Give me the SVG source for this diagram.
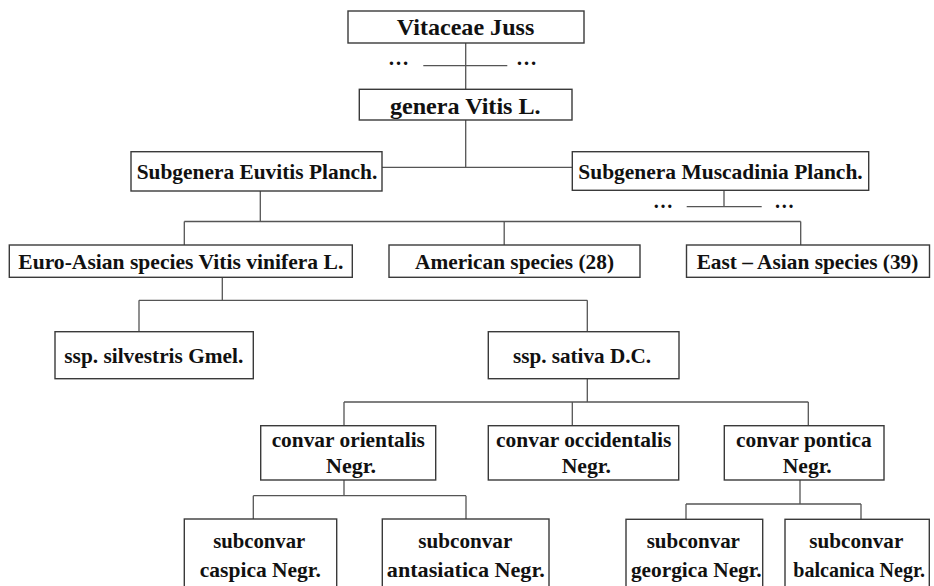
<svg xmlns="http://www.w3.org/2000/svg" width="934" height="586" viewBox="0 0 934 586">
<style>
.box{fill:#fff;stroke:#3a3a3a;stroke-width:1.4}
.t{font-family:"Liberation Serif","Times New Roman",serif;font-weight:bold;font-size:21.5px;fill:#111;text-anchor:middle}
.c{fill:none;stroke:#555;stroke-width:1.3}
</style>
<rect width="934" height="586" fill="#fff"/>
<g id="connectors" class="c">
<path d="M465.7 43V89.3M423.3 65.7H507.3"/>
<path d="M465.7 120V167.3M382 167.3H572.3"/>
<path d="M260.3 191V221.5M184.3 221.5H800.7M184.3 221.5V245M504.2 221.5V245M800.7 221.5V245"/>
<path d="M724 190.3V206.7M686.7 206.7H761.7"/>
<path d="M222.3 277.3V300.3M139 300.3H587.3M139 300.3V331.7M587.3 300.3V331.7"/>
<path d="M587.3 378.7V402M344 402H808.3M344 402V425.7M572.3 402V425.7M808.3 402V425.7"/>
<path d="M344 480V495.7M253.3 495.7H466M253.3 495.7V519M466 495.7V519"/>
<path d="M800 480V504M686 504H861M686 504V519.3M861 504V519.3"/>
<text class="t" stroke="none" x="398.5" y="64.5" textLength="21" lengthAdjust="spacingAndGlyphs">…</text>
<text class="t" stroke="none" x="526.5" y="64.5" textLength="21" lengthAdjust="spacingAndGlyphs">…</text>
<text class="t" stroke="none" x="663" y="208" textLength="20" lengthAdjust="spacingAndGlyphs">…</text>
<text class="t" stroke="none" x="784.3" y="208" textLength="20" lengthAdjust="spacingAndGlyphs">…</text>
</g>
<g id="vitaceae"><rect class="box" x="348" y="11" width="236" height="32"/><text class="t" x="465.5" y="35" font-size="24" style="font-size:24px" textLength="137.6" lengthAdjust="spacingAndGlyphs">Vitaceae Juss</text></g>
<g id="genera"><rect class="box" x="359.3" y="89.3" width="212.7" height="30.7"/><text class="t" x="465.3" y="113.5" style="font-size:23px" textLength="150.7" lengthAdjust="spacingAndGlyphs">genera Vitis L.</text></g>
<g id="euvitis"><rect class="box" x="131" y="151.7" width="251" height="39.3"/><text class="t" x="257" y="179.3" textLength="240.6" lengthAdjust="spacingAndGlyphs">Subgenera Euvitis Planch.</text></g>
<g id="muscadinia"><rect class="box" x="572.3" y="151.7" width="296.4" height="38.6"/><text class="t" x="720.5" y="179.3" textLength="284.4" lengthAdjust="spacingAndGlyphs">Subgenera Muscadinia Planch.</text></g>
<g id="euroasian"><rect class="box" x="9.3" y="245" width="343" height="32.3"/><text class="t" x="180.8" y="269.3" textLength="325" lengthAdjust="spacingAndGlyphs">Euro-Asian species Vitis vinifera L.</text></g>
<g id="american"><rect class="box" x="389" y="245" width="251" height="32.3"/><text class="t" x="514.5" y="269.3" textLength="199" lengthAdjust="spacingAndGlyphs">American species (28)</text></g>
<g id="eastasian"><rect class="box" x="686.5" y="245" width="243" height="32.3"/><text class="t" x="807.5" y="269.3" textLength="221.7" lengthAdjust="spacingAndGlyphs">East – Asian species (39)</text></g>
<g id="silvestris"><rect class="box" x="55" y="331.7" width="198.3" height="47"/><text class="t" x="153.8" y="363.3" textLength="179" lengthAdjust="spacingAndGlyphs">ssp. silvestris Gmel.</text></g>
<g id="sativa"><rect class="box" x="488.3" y="331.7" width="190.7" height="47"/><text class="t" x="582" y="363.3" textLength="138" lengthAdjust="spacingAndGlyphs">ssp. sativa D.C.</text></g>
<g id="orientalis"><rect class="box" x="260.7" y="425.7" width="175" height="54.3"/><text class="t" x="348.3" y="446.7" textLength="153.3" lengthAdjust="spacingAndGlyphs">convar orientalis</text><text class="t" x="351" y="473.3" textLength="50" lengthAdjust="spacingAndGlyphs">Negr.</text></g>
<g id="occidentalis"><rect class="box" x="488.3" y="425.7" width="190.4" height="54.3"/><text class="t" x="583.7" y="446.7" textLength="175.3" lengthAdjust="spacingAndGlyphs">convar occidentalis</text><text class="t" x="586.3" y="473.3" textLength="49.3" lengthAdjust="spacingAndGlyphs">Negr.</text></g>
<g id="pontica"><rect class="box" x="724.3" y="425.7" width="159.7" height="54.3"/><text class="t" x="803.8" y="446.7" textLength="135.7" lengthAdjust="spacingAndGlyphs">convar pontica</text><text class="t" x="807.2" y="473.3" textLength="49" lengthAdjust="spacingAndGlyphs">Negr.</text></g>
<g id="caspica"><rect class="box" x="184.3" y="519" width="152.4" height="80"/><text class="t" x="259.2" y="548.3" textLength="92" lengthAdjust="spacingAndGlyphs">subconvar</text><text class="t" x="260.3" y="576.5" textLength="121" lengthAdjust="spacingAndGlyphs">caspica Negr.</text></g>
<g id="antasiatica"><rect class="box" x="382.3" y="519" width="166.7" height="80"/><text class="t" x="465.3" y="548.3" textLength="94" lengthAdjust="spacingAndGlyphs">subconvar</text><text class="t" x="465.8" y="576.5" textLength="158" lengthAdjust="spacingAndGlyphs">antasiatica Negr.</text></g>
<g id="georgica"><rect class="box" x="626" y="519.3" width="136.7" height="80"/><text class="t" x="693.3" y="548.3" textLength="93.3" lengthAdjust="spacingAndGlyphs">subconvar</text><text class="t" x="696.3" y="576.5" textLength="130.7" lengthAdjust="spacingAndGlyphs">georgica Negr.</text></g>
<g id="balcanica"><rect class="box" x="785" y="519.3" width="144.3" height="80"/><text class="t" x="856.3" y="548.3" textLength="94" lengthAdjust="spacingAndGlyphs">subconvar</text><text class="t" x="859.2" y="576.5" textLength="131.7" lengthAdjust="spacingAndGlyphs">balcanica Negr.</text></g>
</svg>
